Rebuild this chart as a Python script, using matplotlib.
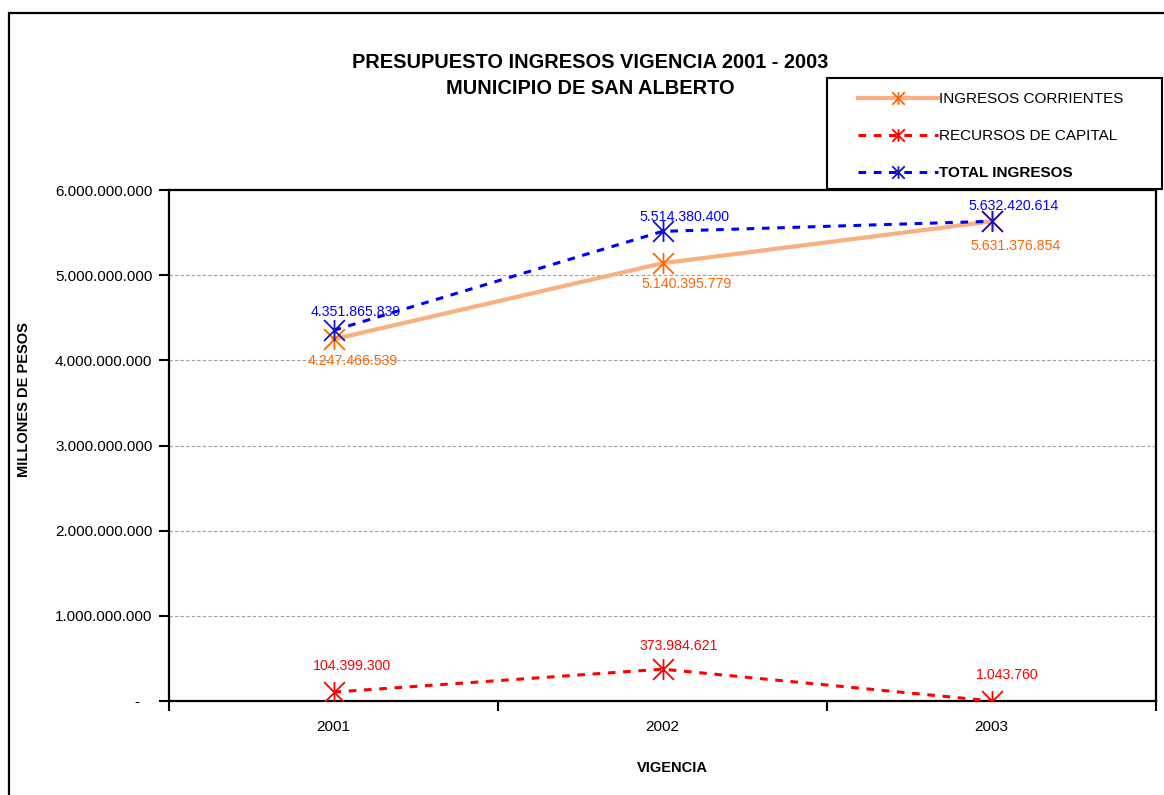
import matplotlib.pyplot as plt
from matplotlib.path import Path
from matplotlib.patches import Rectangle

years = ["2001", "2002", "2003"]
corrientes = [4247466539, 5140395779, 5631376854]
capital = [104399300, 373984621, 1043760]
total = [4351865839, 5514380400, 5632420614]


def fmt(v):
    return f"{v:,.0f}".replace(",", ".")


plt.rcParams['font.family'] = ['Liberation Sans', 'DejaVu Sans']

W, H = 1164, 795
fig = plt.figure(figsize=(W / 100, H / 100), dpi=100)
ax = fig.add_axes([169 / W, 1 - 701 / H, (1156 - 169) / W, (701 - 190) / H])

# Excel-like asterisk marker: vertical bar + X
star = Path([(0, -1), (0, 1), (-1, -1), (1, 1), (-1, 1), (1, -1)],
            [Path.MOVETO, Path.LINETO, Path.MOVETO, Path.LINETO, Path.MOVETO, Path.LINETO])

x = list(range(len(years)))
ax.plot(x, corrientes, color="#F9AF7F", lw=3.0, marker=star, ms=15, mew=1.3,
        mec="#FF6600", mfc="none", label="INGRESOS CORRIENTES", zorder=3)
ax.plot(x, capital, color="#FF0000", lw=2.2, ls=(0, (2.5, 2.5)), marker=star, ms=15, mew=1.3,
        mec="#FF0000", mfc="none", label="RECURSOS DE CAPITAL", zorder=3)
ax.plot(x, total, color="#0000FF", lw=2.2, ls=(0, (2.5, 2.5)), marker=star, ms=15, mew=1.3,
        mec="#1414C8", mfc="none", label="TOTAL INGRESOS", zorder=4)

# data labels (offsets in points)
lab_specs = [
    (corrientes, "#FF6600", [(14, -16), (17, -15), (17, -18)]),
    (total, "#0000FF", [(16, 13), (16, 10), (16, 11)]),
    (capital, "#FF0000", [(13, 19), (12, 17), (11, 19)]),
]
for vals, col, offs in lab_specs:
    for xi, v, off in zip(x, vals, offs):
        ax.annotate(fmt(v), (xi, v), xytext=off, textcoords="offset points",
                    ha="center", va="center", color=col, fontsize=10.2, zorder=5)

ax.set_xlim(-0.5, 2.5)
ax.set_ylim(0, 6e9)
ax.set_xticks(x)
ax.set_xticklabels(years, fontsize=11)
ax.set_xticks([-0.5, 0.5, 1.5, 2.5], minor=True)
ax.tick_params(axis="x", which="major", length=0, pad=14)
ax.tick_params(axis="x", which="minor", length=7, width=1.5, direction="out")
yt = [0, 1e9, 2e9, 3e9, 4e9, 5e9, 6e9]
ax.set_yticks(yt)
ax.set_yticklabels(["-   "] + [fmt(v) for v in yt[1:]], fontsize=11)
ax.tick_params(axis="y", length=7, width=1.5, direction="out", pad=5)

ax.grid(axis="y", color="#A0A0A0", ls=(0, (3, 2)), lw=0.8)
for s in ax.spines.values():
    s.set_linewidth(1.6)

fig.text(24 / W, 1 - 400 / H, "MILLONES DE PESOS", rotation=90, ha="center", va="center",
         fontsize=10.5, fontweight="bold")
fig.text(672 / W, 1 - 768 / H, "VIGENCIA", ha="center", va="center",
         fontsize=10.5, fontweight="bold")

fig.text(590 / W, 1 - 62 / H, "PRESUPUESTO INGRESOS VIGENCIA 2001 - 2003",
         ha="center", va="center", fontsize=14.4, fontweight="bold")
fig.text(590 / W, 1 - 88 / H, "MUNICIPIO DE SAN ALBERTO",
         ha="center", va="center", fontsize=14.4, fontweight="bold")

# legend with manual frame
fig.patches.append(Rectangle((827 / W, 1 - 189 / H), (1162 - 827) / W, (189 - 78) / H,
                             transform=fig.transFigure, fill=True, facecolor="white",
                             edgecolor="black", lw=1.5, zorder=10))
leg = fig.legend(loc="upper left", bbox_to_anchor=(852 / W, 1 - 86 / H), frameon=False,
                 fontsize=11, handlelength=5.2, handletextpad=0.1, labelspacing=1.5,
                 borderaxespad=0, markerscale=0.6)
leg.set_zorder(11)
leg.get_texts()[2].set_fontweight("bold")

# outer chart border
fig.patches.append(Rectangle((9 / W, -0.05), 1.2, 1 - 13 / H + 0.05,
                             transform=fig.transFigure, fill=False,
                             edgecolor="black", lw=1.6))

fig.savefig("out.png", dpi=100)
